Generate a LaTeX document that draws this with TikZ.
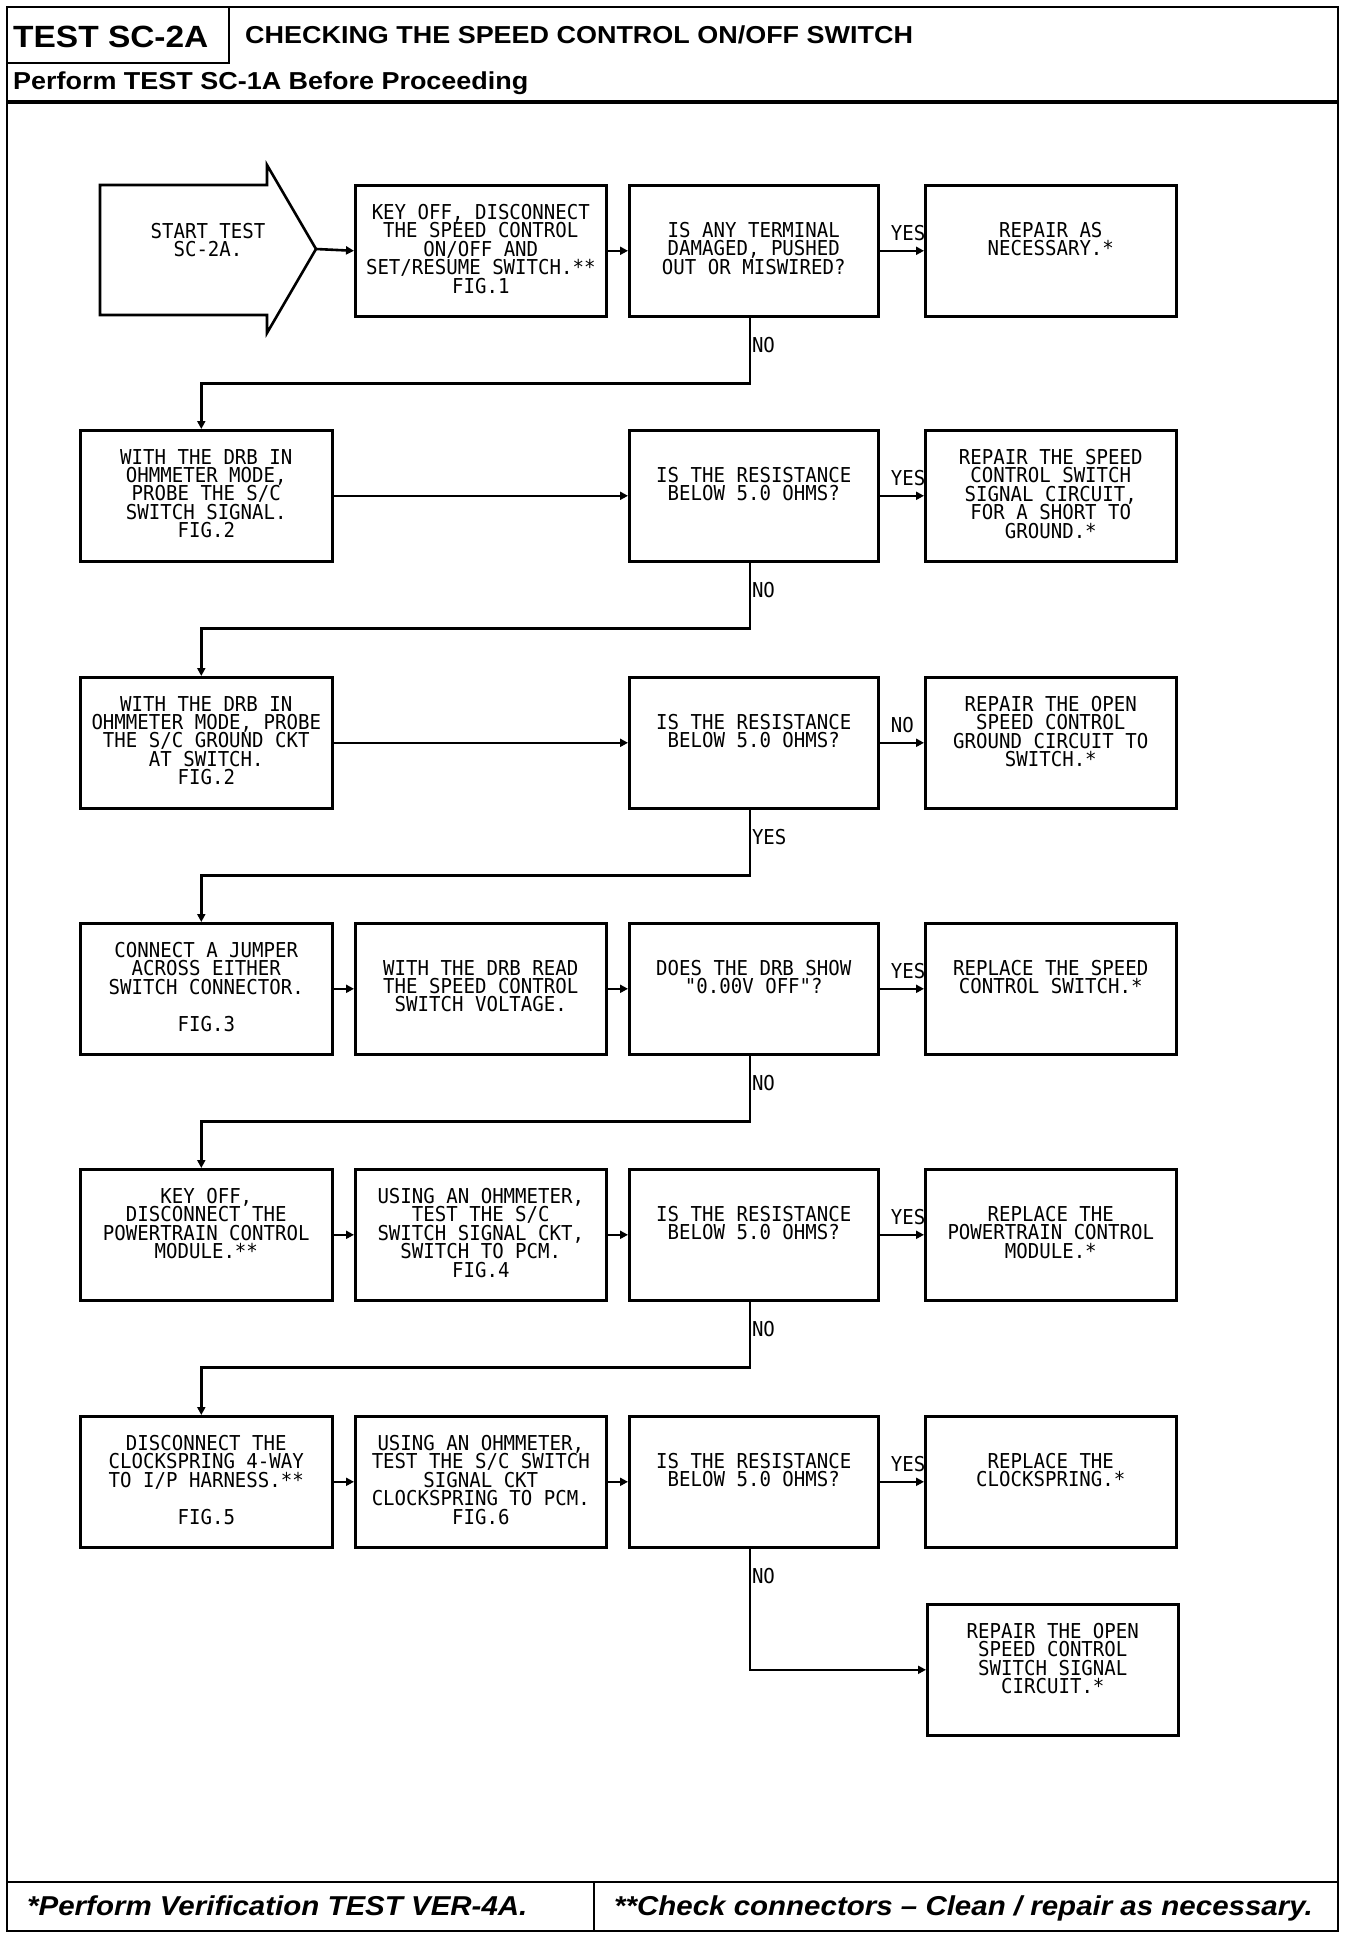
\documentclass[tikz,border=0pt]{standalone}
\usepackage{fontspec}
\usetikzlibrary{arrows.meta,calc}
\newfontfamily\boxfont{DejaVu Sans Mono}[FakeStretch=0.93]
\newfontfamily\hdA{Liberation Sans}[FakeStretch=1.09]
\newfontfamily\hdB{Liberation Sans}[FakeStretch=1.10]
\newfontfamily\hdC{Liberation Sans}[FakeStretch=1.10]
\newfontfamily\ftfont{Liberation Sans}[FakeStretch=1.08]
\newcommand\mkbox[6]{% name, left, top, width, text offset, text
  \node[box, minimum width=#4, anchor=north west] (#1) at (#2,#3) {};
  \node[txt, anchor=north] (#1t) at ($(#1.north)+(0,#5)$) {#6};
}
\begin{document}
\begin{tikzpicture}[x=1pt,y=-1pt,
  box/.style={draw, line width=2.6pt, rectangle, inner sep=0pt, minimum height=131pt},
  txt/.style={align=center, inner sep=0pt, font=\boxfont\fontsize{20.5}{18.4}\selectfont},
  lab/.style={inner sep=0pt, font=\boxfont\fontsize{20.5}{18.4}\selectfont},
  arr/.style={line width=2.6pt, -{Triangle[length=8pt,width=8pt]}},
  frame/.style={line width=2.4pt},
  sep/.style={line width=3.5pt}]
\fill[white] (0,0) rectangle (1360,1940);
\useasboundingbox (0,0) rectangle (1360,1940);

% ---------- frame and header ----------
\draw[frame] (7,7) rectangle (1338,1931);
\draw[frame] (229,7) -- (229,63) -- (7,63);
\draw[sep] (7,102) -- (1338,102);
\draw[frame] (7,1882) -- (1338,1882);
\draw[frame] (594,1882) -- (594,1931);
\node[anchor=base west, inner sep=0pt, font=\hdA\bfseries\fontsize{30.7}{32}\selectfont] (ttl) at (13,48) {TEST SC-2A};
\node[anchor=base west, inner sep=0pt, font=\hdB\bfseries\fontsize{24.5}{26}\selectfont] (ttl2) at (245,44) {CHECKING THE SPEED CONTROL ON/OFF SWITCH};
\node[anchor=base west, inner sep=0pt, font=\hdC\bfseries\fontsize{24.5}{26}\selectfont] (sub) at (13,90) {Perform TEST SC-1A Before Proceeding};
\node[anchor=base west, inner sep=0pt, font=\ftfont\bfseries\itshape\fontsize{27.3}{29}\selectfont] (ft1) at (27,1915) {*Perform Verification TEST VER-4A.};
\node[anchor=base west, inner sep=0pt, font=\ftfont\bfseries\itshape\fontsize{27.3}{29}\selectfont] (ft2) at (614,1915) {**Check connectors – Clean / repair as necessary.};

% ---------- row 1 ----------
\draw[line width=2.6pt] (100,185) -- (267,185) -- (267,165) -- (316,249) -- (267,333) -- (267,315) -- (100,315) -- cycle;
\coordinate (starttip) at (316,249);
\node[txt, anchor=north] (start) at (208,223) {START TEST\\SC-2A.};
\mkbox{b12}{354}{184}{251}{20}{KEY OFF, DISCONNECT\\THE SPEED CONTROL\\ON/OFF AND\\SET/RESUME SWITCH.**\\FIG.1}
\mkbox{q1}{628}{184}{249}{38}{IS ANY TERMINAL\\DAMAGED, PUSHED\\OUT OR MISWIRED?}
\mkbox{r1}{924}{184}{251}{38}{REPAIR AS\\NECESSARY.*}

% ---------- row 2 ----------
\mkbox{b21}{79}{429}{252}{20}{WITH THE DRB IN\\OHMMETER MODE,\\PROBE THE S/C\\SWITCH SIGNAL.\\FIG.2}
\mkbox{q2}{628}{429}{249}{38}{IS THE RESISTANCE\\BELOW 5.0 OHMS?}
\mkbox{r2}{924}{429}{251}{20}{REPAIR THE SPEED\\CONTROL SWITCH\\SIGNAL CIRCUIT,\\FOR A SHORT TO\\GROUND.*}

% ---------- row 3 ----------
\mkbox{b31}{79}{676}{252}{20}{WITH THE DRB IN\\OHMMETER MODE, PROBE\\THE S/C GROUND CKT\\AT SWITCH.\\FIG.2}
\mkbox{q3}{628}{676}{249}{38}{IS THE RESISTANCE\\BELOW 5.0 OHMS?}
\mkbox{r3}{924}{676}{251}{20}{REPAIR THE OPEN\\SPEED CONTROL\\GROUND CIRCUIT TO\\SWITCH.*}

% ---------- row 4 ----------
\mkbox{b41}{79}{922}{252}{20}{CONNECT A JUMPER\\ACROSS EITHER\\SWITCH CONNECTOR.\\[18.4pt]FIG.3}
\mkbox{b42}{354}{922}{251}{38}{WITH THE DRB READ\\THE SPEED CONTROL\\SWITCH VOLTAGE.}
\mkbox{q4}{628}{922}{249}{38}{DOES THE DRB SHOW\\"0.00V OFF"?}
\mkbox{r4}{924}{922}{251}{38}{REPLACE THE SPEED\\CONTROL SWITCH.*}

% ---------- row 5 ----------
\mkbox{b51}{79}{1168}{252}{20}{KEY OFF,\\DISCONNECT THE\\POWERTRAIN CONTROL\\MODULE.**}
\mkbox{b52}{354}{1168}{251}{20}{USING AN OHMMETER,\\TEST THE S/C\\SWITCH SIGNAL CKT,\\SWITCH TO PCM.\\FIG.4}
\mkbox{q5}{628}{1168}{249}{38}{IS THE RESISTANCE\\BELOW 5.0 OHMS?}
\mkbox{r5}{924}{1168}{251}{38}{REPLACE THE\\POWERTRAIN CONTROL\\MODULE.*}

% ---------- row 6 ----------
\mkbox{b61}{79}{1415}{252}{20}{DISCONNECT THE\\CLOCKSPRING 4-WAY\\TO I/P HARNESS.**\\[18.4pt]FIG.5}
\mkbox{b62}{354}{1415}{251}{20}{USING AN OHMMETER,\\TEST THE S/C SWITCH\\SIGNAL CKT\\CLOCKSPRING TO PCM.\\FIG.6}
\mkbox{q6}{628}{1415}{249}{38}{IS THE RESISTANCE\\BELOW 5.0 OHMS?}
\mkbox{r6}{924}{1415}{251}{38}{REPLACE THE\\CLOCKSPRING.*}

% ---------- row 7 ----------
\mkbox{r7}{926}{1603}{251}{20}{REPAIR THE OPEN\\SPEED CONTROL\\SWITCH SIGNAL\\CIRCUIT.*}

% ---------- connectors ----------
\draw[arr] (starttip) -- (b12.west);
\draw[arr] (b12.east) -- (q1.west);
\draw[arr] (q1.east) -- (r1.west);
\draw[arr] ([xshift=-4pt]q1.south) -- ++(0,66) -| ([xshift=-5pt]b21.north);

\draw[arr] (b21.east) -- (q2.west);
\draw[arr] (q2.east) -- (r2.west);
\draw[arr] ([xshift=-4pt]q2.south) -- ++(0,66) -| ([xshift=-5pt]b31.north);

\draw[arr] (b31.east) -- (q3.west);
\draw[arr] (q3.east) -- (r3.west);
\draw[arr] ([xshift=-4pt]q3.south) -- ++(0,66) -| ([xshift=-5pt]b41.north);

\draw[arr] (b41.east) -- (b42.west);
\draw[arr] (b42.east) -- (q4.west);
\draw[arr] (q4.east) -- (r4.west);
\draw[arr] ([xshift=-4pt]q4.south) -- ++(0,66) -| ([xshift=-5pt]b51.north);

\draw[arr] (b51.east) -- (b52.west);
\draw[arr] (b52.east) -- (q5.west);
\draw[arr] (q5.east) -- (r5.west);
\draw[arr] ([xshift=-4pt]q5.south) -- ++(0,66) -| ([xshift=-5pt]b61.north);

\draw[arr] (b61.east) -- (b62.west);
\draw[arr] (b62.east) -- (q6.west);
\draw[arr] (q6.east) -- (r6.west);
\draw[arr] ([xshift=-4pt]q6.south) |- (r7.west);

% ---------- branch labels ----------
\node[lab, anchor=base west] (y1) at ($(q1.east)+(11,-10)$) {YES};
\node[lab, anchor=base west] (n1) at ($(q1.south)+(-2,35)$) {NO};
\node[lab, anchor=base west] (y2) at ($(q2.east)+(11,-10)$) {YES};
\node[lab, anchor=base west] (n2) at ($(q2.south)+(-2,35)$) {NO};
\node[lab, anchor=base west] (n3) at ($(q3.east)+(11,-10)$) {NO};
\node[lab, anchor=base west] (y3) at ($(q3.south)+(-2,35)$) {YES};
\node[lab, anchor=base west] (y4) at ($(q4.east)+(11,-10)$) {YES};
\node[lab, anchor=base west] (n4) at ($(q4.south)+(-2,35)$) {NO};
\node[lab, anchor=base west] (y5) at ($(q5.east)+(11,-10)$) {YES};
\node[lab, anchor=base west] (n5) at ($(q5.south)+(-2,35)$) {NO};
\node[lab, anchor=base west] (y6) at ($(q6.east)+(11,-10)$) {YES};
\node[lab, anchor=base west] (n6) at ($(q6.south)+(-2,35)$) {NO};
\end{tikzpicture}
\end{document}
